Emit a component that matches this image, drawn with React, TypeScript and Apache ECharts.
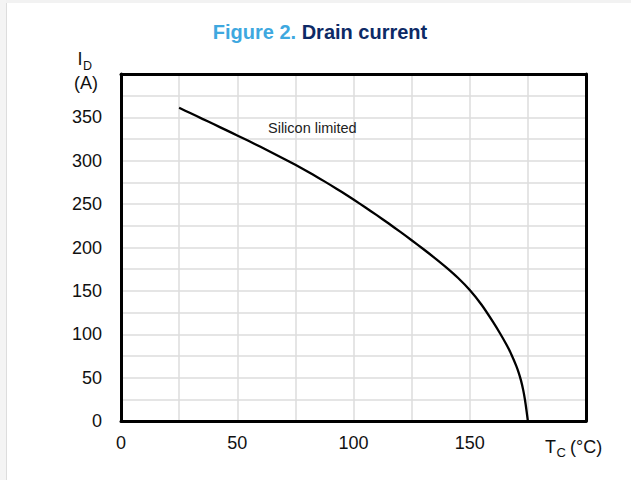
import React, { useEffect, useRef } from "react";
import * as echarts from "echarts";

// Case temperature (°C) and drain current (A)
const tempC = [
  25, 30, 35, 40, 45, 50, 55, 60, 65, 70, 75, 80, 85, 90, 95, 100, 105, 110, 115, 120, 125,
  130, 135, 140, 145, 150, 155, 160, 163, 166, 168, 170, 171, 172, 173, 173.8, 174.5, 175,
];
const drainA = [
  361, 354.7, 348.3, 342, 335.6, 329.2, 322.7, 316.1, 309.3, 302.4, 295.3, 287.9, 280.2, 272.2, 263.9, 255.3,
  246.4, 237.3, 227.9, 218.3, 208.4, 198.3, 187.8, 176.8, 164.8, 151, 134.3, 114.3, 101.2, 87, 76.2, 63.6,
  56.1, 47.1, 35.6, 23.6, 10.3, 0,
];

const xTickLabels = [0, 50, 100, 150];
const yTickLabels = [0, 50, 100, 150, 200, 250, 300, 350];

const FONT = "Liberation Sans, Arial, Helvetica, sans-serif";

export default function App() {
  const ref = useRef<HTMLDivElement>(null);

  useEffect(() => {
    if (!ref.current) return;
    const chart = echarts.init(ref.current, undefined, { renderer: "svg" });
    const data = tempC.map((t, i) => [t, drainA[i]]);

    chart.setOption({
      animation: false,
      backgroundColor: "#ffffff",
      grid: { left: 121, right: 45, top: 74, bottom: 59, containLabel: false },
      xAxis: [
        {
          type: "value",
          min: 0,
          max: 200,
          interval: 25,
          position: "bottom",
          axisLine: { show: true, onZero: false, lineStyle: { color: "#000", width: 3 } },
          axisTick: { show: false },
          splitLine: { show: true, lineStyle: { color: "#dcdcdc", width: 1.5 } },
          axisLabel: {
            margin: 13,
            fontFamily: FONT,
            fontSize: 18,
            color: "#111",
            formatter: (v: number) => (xTickLabels.includes(v) ? String(v) : ""),
          },
        },
        {
          type: "value",
          min: 0,
          max: 200,
          interval: 25,
          position: "top",
          axisLine: { show: true, onZero: false, lineStyle: { color: "#000", width: 3 } },
          axisTick: { show: false },
          splitLine: { show: false },
          axisLabel: { show: false },
        },
      ],
      yAxis: [
        {
          type: "value",
          min: 0,
          max: 400,
          interval: 25,
          position: "left",
          axisLine: { show: true, onZero: false, lineStyle: { color: "#000", width: 3 } },
          axisTick: { show: false },
          splitLine: { show: true, lineStyle: { color: "#dcdcdc", width: 1.5 } },
          axisLabel: {
            margin: 19,
            fontFamily: FONT,
            fontSize: 18,
            color: "#111",
            formatter: (v: number) => (yTickLabels.includes(v) ? String(v) : ""),
          },
        },
        {
          type: "value",
          min: 0,
          max: 400,
          interval: 25,
          position: "right",
          axisLine: { show: true, onZero: false, lineStyle: { color: "#000", width: 3 } },
          axisTick: { show: false },
          splitLine: { show: false },
          axisLabel: { show: false },
        },
      ],
      series: [
        {
          type: "line",
          data,
          xAxisIndex: 0,
          yAxisIndex: 0,
          showSymbol: false,
          symbol: "none",
          smooth: 0.2,
          lineStyle: { color: "#000", width: 2.3 },
          z: 5,
        },
      ],
      graphic: [
        { type: "rect", z: 100, shape: { x: 0, y: 0, width: 631, height: 3 }, style: { fill: "#f2f2f2" }, silent: true },
        { type: "rect", z: 100, shape: { x: 0, y: 0, width: 6, height: 480 }, style: { fill: "#f4f4f4" }, silent: true },
        { type: "line", z: 100, shape: { x1: 6.5, y1: 3, x2: 6.5, y2: 480 }, style: { stroke: "#dddddd", lineWidth: 1 }, silent: true },
        {
          type: "text",
          z: 100,
          x: 320,
          y: 32,
          style: {
            text: "{a|Figure 2.} {b|Drain current}",
            textAlign: "center",
            textVerticalAlign: "middle",
            rich: {
              a: { fontFamily: FONT, fontSize: 20, fontWeight: "bold", fill: "#3ea8df" },
              b: { fontFamily: FONT, fontSize: 20, fontWeight: "bold", fill: "#0d2a66" },
            },
            fontFamily: FONT,
            fontSize: 20,
            fontWeight: "bold",
          },
        },
        {
          type: "text",
          z: 100,
          x: 268,
          y: 128,
          style: {
            text: "Silicon limited",
            fontFamily: FONT,
            fontSize: 14.5,
            fill: "#222",
            textVerticalAlign: "middle",
          },
        },
        {
          type: "text",
          z: 100,
          x: 77.5,
          y: 59,
          style: { text: "I", fontFamily: FONT, fontSize: 18, fill: "#111", textVerticalAlign: "middle" },
        },
        {
          type: "text",
          z: 100,
          x: 83,
          y: 66,
          style: { text: "D", fontFamily: FONT, fontSize: 12.5, fill: "#111", textVerticalAlign: "middle" },
        },
        {
          type: "text",
          z: 100,
          x: 86,
          y: 83,
          style: { text: "(A)", fontFamily: FONT, fontSize: 18, fill: "#111", textAlign: "center", textVerticalAlign: "middle" },
        },
        {
          type: "text",
          z: 100,
          x: 545,
          y: 447,
          style: { text: "T", fontFamily: FONT, fontSize: 18, fill: "#111", textVerticalAlign: "middle" },
        },
        {
          type: "text",
          z: 100,
          x: 556.5,
          y: 452.5,
          style: { text: "C", fontFamily: FONT, fontSize: 13, fill: "#111", textVerticalAlign: "middle" },
        },
        {
          type: "text",
          z: 100,
          x: 570,
          y: 447,
          style: { text: "(°C)", fontFamily: FONT, fontSize: 18, fill: "#111", textVerticalAlign: "middle" },
        },
      ],
    });

    return () => {
      chart.dispose();
    };
  }, []);

  return (
    <div
      ref={ref}
      style={{ position: "fixed", left: 0, top: 0, width: 631, height: 480 }}
    />
  );
}
